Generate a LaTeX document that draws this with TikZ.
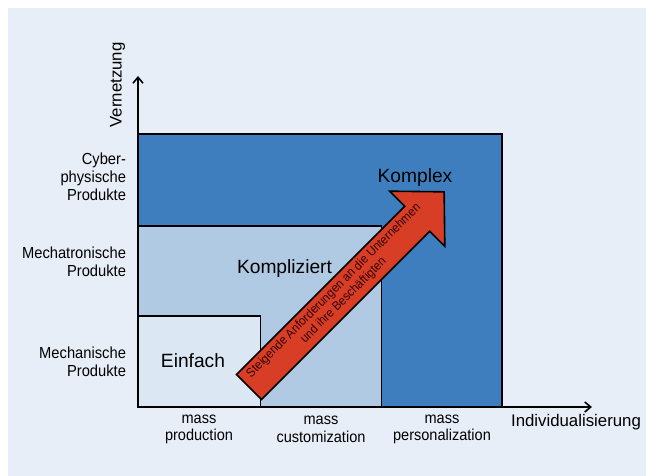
\documentclass[tikz,border=0pt]{standalone}
\usepackage{fontspec}
\setmainfont{Liberation Sans}
\newfontfamily\narrowsans{Liberation Sans}[FakeStretch=0.92]
\usetikzlibrary{arrows.meta}
\definecolor{bgblue}{RGB}{232,238,248}
\definecolor{darkfield}{RGB}{62,126,190}
\definecolor{midfield}{RGB}{176,202,228}
\definecolor{lightfield}{RGB}{220,231,244}
\definecolor{trendred}{RGB}{216,62,38}
\tikzset{
  axis/.style={line width=1.6pt,-{Straight Barb[length=6pt,width=10pt,line width=1.6pt]}},
  field/.style={draw=black,line width=1.2pt},
  levellabel/.style={anchor=east,align=right,font=\narrowsans\fontsize{16}{18}\selectfont},
  marketlabel/.style={align=center,font=\narrowsans\fontsize{15.8}{17.5}\selectfont},
  axislabel/.style={font=\fontsize{16.8}{20}\selectfont},
  classlabel/.style={font=\fontsize{19.2}{22}\selectfont},
}
\begin{document}
\begin{tikzpicture}[x=1pt,y=1pt]
\useasboundingbox (0,0) rectangle (646,476);
\fill[bgblue] (8,0) rectangle (646,468);
\coordinate (o) at (138,69);
\coordinate (ytip) at (138,400);
\coordinate (xtip) at (592,69);
\filldraw[field,fill=darkfield] (o) rectangle (502,342);
\filldraw[field,fill=midfield] (o) rectangle (381.5,250);
\filldraw[field,fill=lightfield] (o) rectangle (260.5,160);
\draw[axis] (o) -- (ytip);
\draw[axis] (o) -- (xtip);
\node[axislabel,rotate=90] (vern) at (117.5,391) {Vernetzung};
\node[axislabel] (indiv) at (576,54) {Individualisierung};
\node[levellabel] (cps) at (129.5,299) {Cyber-\\physische\\Produkte};
\node[levellabel] (mechatr) at (129.5,214) {Mechatronische\\Produkte};
\node[levellabel] (mech) at (129.5,114) {Mechanische\\Produkte};
\node[marketlabel] (prod) at (199,46.6) {mass\\production};
\node[marketlabel] (cust) at (321,46.6) {mass\\customization};
\node[marketlabel] (pers) at (442,46.6) {mass\\personalization};
\node[classlabel] (einfach) at (193,115) {Einfach};
\node[classlabel] (kompliziert) at (284.5,207) {Kompliziert};
\node[classlabel] (komplex) at (415,298) {Komplex};
\begin{scope}[shift={(249,89)},rotate=45]
\filldraw[fill=trendred,draw=black,line width=1.6pt,line join=miter]
  (0,-17.7) -- (238,-17.7) -- (238,-38.9) -- (276,0) -- (238,38.9)
  -- (238,17.7) -- (0,17.7) -- cycle;
\node[transform shape,align=center,text=black!80!red,
  font=\narrowsans\fontsize{12.6}{13.8}\selectfont] (trend) at (128,1)
  {Steigende Anforderungen an die Unternehmen\\und ihre Beschäftigten};
\end{scope}
\end{tikzpicture}
\end{document}
